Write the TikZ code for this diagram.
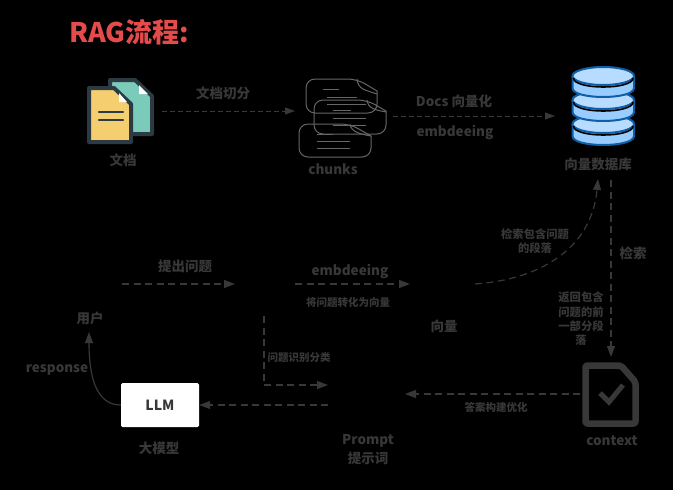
\documentclass[tikz,border=0pt]{standalone}
\usepackage{fontspec}
\setmainfont{Noto Sans CJK SC}
\usetikzlibrary{arrows.meta}
\definecolor{ink}{HTML}{383838}
\definecolor{iconink}{HTML}{2C3A43}
\definecolor{titlered}{HTML}{E64B4B}
\definecolor{dbline}{HTML}{0F5EA8}
\definecolor{dbbody}{HTML}{99CCFF}
\definecolor{dbtop}{HTML}{B8DCFF}
\definecolor{docteal}{HTML}{7BCBBB}
\definecolor{docyellow}{HTML}{F5CF6F}
\definecolor{chunkgray}{HTML}{666666}
\tikzset{
 lab/.style={text=ink,font=\bfseries\fontsize{13.5}{19}\selectfont,inner sep=0pt,align=center},
 small/.style={text=ink,font=\bfseries\fontsize{10.5}{14.5}\selectfont,inner sep=0pt,align=center},
 mid/.style={text=ink,font=\bfseries\fontsize{11.3}{14.4}\selectfont,inner sep=0pt,align=center},
 flow/.style={draw=ink,line width=1.2pt,dash pattern=on 7pt off 4.5pt,-{Triangle[length=11pt,width=8pt,fill=ink]}},
 fine/.style={draw=ink,line width=1pt,dash pattern=on 4.5pt off 3.5pt,-{Triangle[length=10pt,width=7pt,fill=ink]}},
 chunk/.style={draw=chunkgray,line width=1pt,rounded corners=9pt},
 chunkline/.style={draw=chunkgray,line width=1pt},
}
\begin{document}
\begin{tikzpicture}[x=1pt,y=-1pt]
\useasboundingbox (0,0) rectangle (673,490);
\fill[black] (0,0) rectangle (673,490);
\node[text=titlered,font=\bfseries\fontsize{27}{30}\selectfont,inner sep=0pt,anchor=west] (title) at (69,32) {RAG流程:};
% documents icon
\draw[draw=iconink,line width=4pt,line join=round,fill=docteal] (110,80) -- (135,80) -- (152,96) -- (152,134) -- (110,134) -- cycle;
\fill[white] (139,85) -- (148,94) -- (139,94) -- cycle;
\draw[draw=iconink,line width=4pt,line join=round,fill=docyellow] (89,88) -- (114,88) -- (131,104) -- (131,142) -- (89,142) -- cycle;
\fill[white] (119,93) -- (127,102) -- (119,102) -- cycle;
\draw[iconink,line width=2.5pt,line cap=round] (99,112) -- (123,112) (99,120) -- (123,120);
% chunks icon
\draw[chunk] (320,79) -- (357,79) [sharp corners] -- (377,91) [rounded corners=9pt] -- (377,113) -- (306,113) -- (306,79) -- (320,79);
\draw[chunkline] (357,79) .. controls (358,90) and (366,90) .. (377,94);
\draw[chunkline] (323,89) -- (339,89) (327,97) -- (357,97) (327,104) -- (350,104);
\draw[chunk] (330,100) -- (367,100) [sharp corners] -- (386,111) [rounded corners=9pt] -- (386,134) -- (314,134) -- (314,100) -- (330,100);
\draw[chunkline] (367,100) .. controls (368,109) and (376,110) .. (386,112);
\draw[chunkline] (333,104) -- (366,104) (333,110) -- (351,110) (333,118) -- (366,118) (333,125) -- (366,125);
\draw[chunk] (315,124) -- (350,124) [sharp corners] -- (371,136) [rounded corners=9pt] -- (371,157) -- (299,157) -- (299,124) -- (315,124);
\draw[chunkline] (350,124) .. controls (351,132) and (360,134) .. (371,136);
\draw[chunkline] (317,134) -- (333,134) (317,141) -- (350,141) (317,148) -- (350,148);
% database icon
\foreach \cy/\low in {124/136,100/112,76/88}{
 \fill[dbbody] (572.5,\cy) -- (572.5,\low) .. controls (572.5,\low+12) and (634,\low+12) .. (634,\low) -- (634,\cy) -- cycle;
 \draw[dbline,line width=2pt] (572.5,\cy) -- (572.5,\low) .. controls (572.5,\low+12) and (634,\low+12) .. (634,\low) -- (634,\cy);
 \draw[dbline,line width=2pt,fill=dbtop] (603.25,\cy) ellipse [x radius=30.75pt,y radius=9pt];
 \draw[black,line width=1.6pt] (573.5,\cy+2) .. controls (573.5,\cy+14) and (633,\cy+14) .. (633,\cy+2);
}
% context icon
\draw[ink,line width=6.5pt,line join=round,rounded corners=2pt] (585.5,365.5) -- (621,365.5) -- (635.5,382) -- (635.5,423.5) -- (585.5,423.5) -- cycle;
\draw[ink,line width=5pt] (600,393) -- (609,402) -- (623,385);
% LLM
\node[fill=white,minimum width=78pt,minimum height=44pt,rounded corners=1.5pt,inner sep=0pt,text=ink,font=\bfseries\fontsize{14}{16}\selectfont] (llm) at (160,405) {LLM};
% labels
\node[lab] (wd) at (123,160) {文档};
\node[lab] (chunks) at (333,169) {chunks};
\node[lab] (qf) at (223,93) {文档切分};
\node[lab] (dv) at (454,101) {Docs 向量化};
\node[lab] (em1) at (455,133) {embdeeing};
\node[lab] (vdb) at (598,164) {向量数据库};
\node[mid] (js) at (535,241) {检索包含问题\\的段落};
\node[lab] (jsr) at (633,253) {检索};
\node[lab] (tw) at (185,266) {提出问题};
\node[lab] (em2) at (350,272) {embdeeing};
\node[small] (zh) at (348,303) {将问题转化为向量};
\node[lab] (user) at (90,318) {用户};
\node[lab] (vec) at (444,326) {向量};
\node[mid] (fh) at (581,319) {返回包含\\问题的前\\一部分段\\落};
\node[small] (fl) at (299,358) {问题识别分类};
\node[lab] (resp) at (57,370) {response};
\node[small] (da) at (496,407) {答案构建优化};
\node[lab] (prompt) at (368,450) {Prompt\\提示词};
\node[lab] (ctx) at (612,441) {context};
\node[lab] (dmx) at (159,448) {大模型};
% connector ends
\coordinate (a1) at (162,111); \coordinate (a2) at (295,111);
\coordinate (b1) at (393,116); \coordinate (b2) at (555,116);
\coordinate (c1) at (475,284); \coordinate (c2) at (598,179);
\coordinate (d1) at (611,180); \coordinate (d2) at (611,357);
\coordinate (e1) at (122,284); \coordinate (e2) at (235,284);
\coordinate (f1) at (295,284); \coordinate (f2) at (410,284);
\coordinate (g1) at (264,316); \coordinate (g2) at (264,385); \coordinate (g3) at (328,385);
\coordinate (h1) at (328,405);
\coordinate (i1) at (580,394); \coordinate (i2) at (405,394);
\coordinate (u1) at (89,332);
\draw[fine] (a1) -- (a2);
\draw[fine] (b1) -- (b2);
\draw[flow] (c1) .. controls (545,279) and (592,245) .. (c2);
\draw[flow] (d1) -- (d2);
\draw[flow] (e1) -- (e2);
\draw[flow] (f1) -- (f2);
\draw[flow] (g1) -- (g2) -- (g3);
\draw[flow] (h1) -- (llm.east);
\draw[flow] (i1) -- (i2);
\draw[draw=ink,line width=1.2pt,-{Triangle[length=11pt,width=8pt,fill=ink]}] (llm.west) .. controls (100,405) and (89,385) .. (u1);
\end{tikzpicture}
\end{document}
